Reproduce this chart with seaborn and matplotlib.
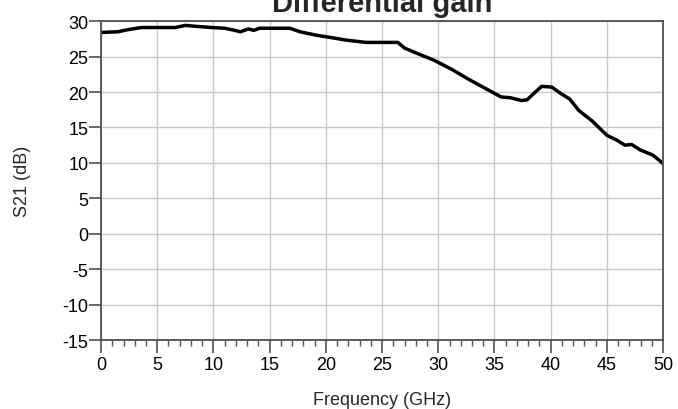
import pandas as pd
import matplotlib
matplotlib.use("Agg")
import matplotlib.pyplot as plt
from matplotlib.ticker import MultipleLocator
import seaborn as sns

# ---------------------------------------------------------
# data
# ---------------------------------------------------------
freq_ghz = [0.0, 1.5, 2.4, 3.6, 5.0, 6.6, 7.5, 8.2, 9.0, 9.8, 11.0, 11.9,
            12.4, 13.1, 13.6, 14.1, 15.5, 16.8, 17.7, 19.2, 20.4, 21.9,
            23.6, 25.0, 26.4, 27.0, 28.2, 29.6, 31.2, 32.7, 34.2, 35.6,
            36.4, 37.4, 37.9, 38.5, 39.2, 40.1, 40.8, 41.7, 42.5, 43.7,
            45.0, 45.9, 46.6, 47.2, 48.0, 49.1, 50.0]
s21_db = [28.4, 28.5, 28.8, 29.1, 29.1, 29.1, 29.4, 29.3, 29.2, 29.1, 29.0,
          28.7, 28.5, 28.9, 28.7, 29.0, 29.0, 29.0, 28.5, 28.0, 27.7, 27.3,
          27.0, 27.0, 27.0, 26.2, 25.4, 24.5, 23.2, 21.8, 20.5, 19.3, 19.2,
          18.8, 18.9, 19.8, 20.8, 20.7, 19.9, 19.0, 17.4, 15.9, 13.9, 13.2,
          12.5, 12.6, 11.8, 11.1, 9.9]

x_ticks = [0, 5, 10, 15, 20, 25, 30, 35, 40, 45, 50]
y_ticks = [-15, -10, -5, 0, 5, 10, 15, 20, 25, 30]

df = pd.DataFrame({"freq": freq_ghz, "s21": s21_db})

# ---------------------------------------------------------
# style
# ---------------------------------------------------------
sns.set_style("whitegrid")
plt.rcParams["font.family"] = ["Liberation Sans", "DejaVu Sans"]
plt.rcParams["axes.unicode_minus"] = False

SPINE_COLOR = "#505050"
GRID_COLOR = "#c8c8c8"

fig = plt.figure(figsize=(6.78, 4.10), dpi=100)
ax = fig.add_axes([0.149, 0.168, 0.829, 0.778])

sns.lineplot(data=df, x="freq", y="s21", color="black", linewidth=2.5, ax=ax)

ax.set_xlim(0, 50)
ax.set_ylim(-15, 30)
ax.set_xticks(x_ticks)
ax.set_yticks(y_ticks)
ax.xaxis.set_minor_locator(MultipleLocator(1))

ax.grid(True, which="major", color=GRID_COLOR, linewidth=1.0)
ax.grid(False, which="minor")

for spine in ax.spines.values():
    spine.set_color(SPINE_COLOR)
    spine.set_linewidth(1.3)

# whitegrid hides ticks, switch them back on
ax.tick_params(axis="x", which="both", bottom=True)
ax.tick_params(axis="y", which="major", left=True)
ax.tick_params(axis="both", which="major", direction="out", length=9,
               width=1.2, color=SPINE_COLOR, labelsize=13, labelcolor="black")
ax.tick_params(axis="x", which="major", pad=2.5)
ax.tick_params(axis="y", which="major", pad=0)
ax.tick_params(axis="x", which="minor", direction="out", length=4.5,
               width=1.0, color=SPINE_COLOR)

ax.set_title("Differential gain", fontsize=21, fontweight="bold", pad=7)
ax.set_xlabel("Frequency (GHz)", fontsize=13, labelpad=13)
ax.set_ylabel("S21 (dB)", fontsize=13, labelpad=23)

fig.savefig("out.png", dpi=100)
